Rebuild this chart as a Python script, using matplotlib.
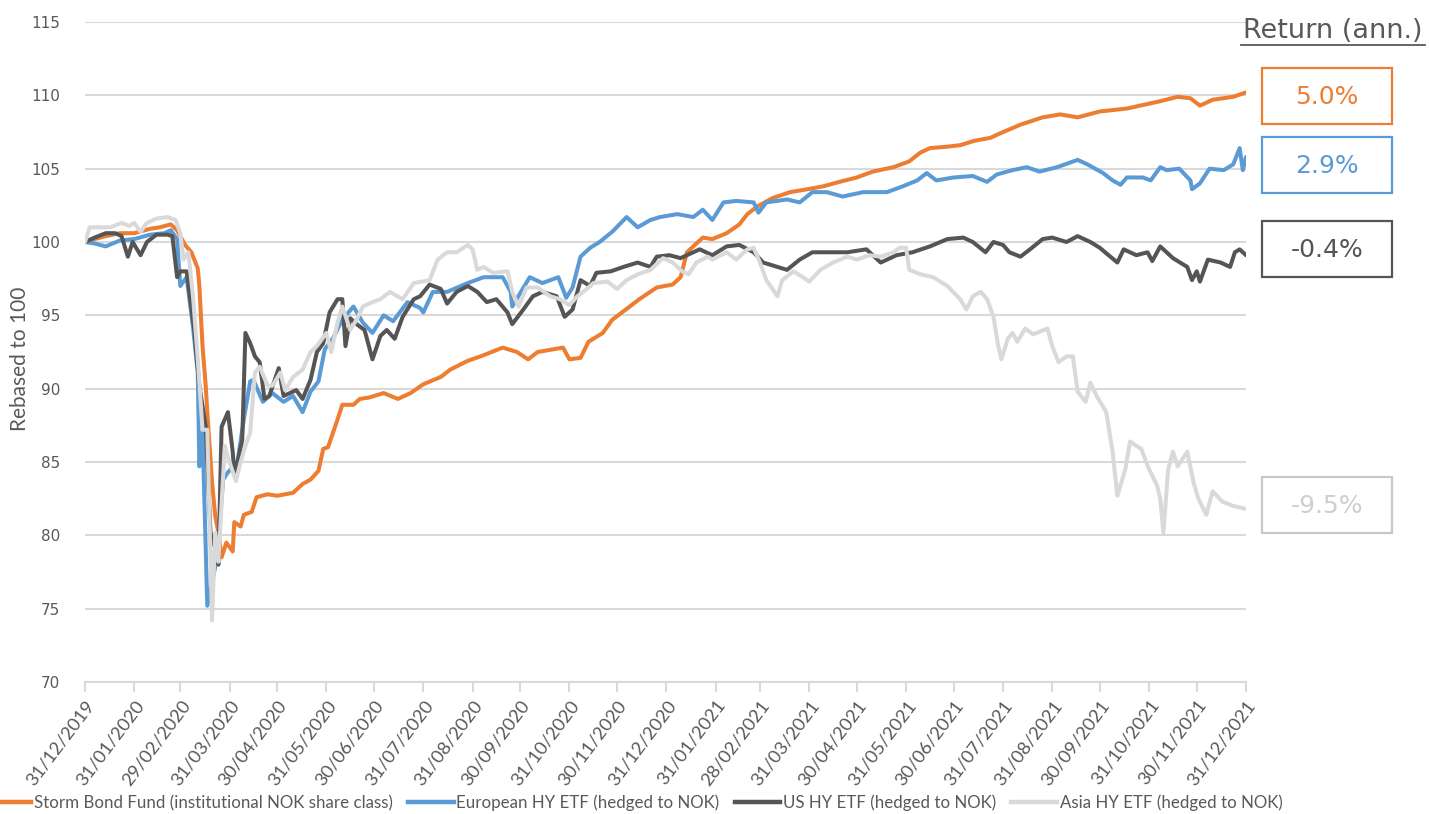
import matplotlib
matplotlib.use("Agg")
import matplotlib.pyplot as plt
from matplotlib.patches import Rectangle
from matplotlib.lines import Line2D
import pandas as pd

# ---------------- data ----------------
series_names = [
    "Storm Bond Fund (institutional NOK share class)",
    "European HY ETF (hedged to NOK)",
    "US HY ETF (hedged to NOK)",
    "Asia HY ETF (hedged to NOK)",
]
returns = ["5.0%", "2.9%", "-0.4%", "-9.5%"]

storm = [("2019-12-31",100.0),("2020-01-06",100.2),("2020-01-13",100.4),("2020-01-22",100.6),("2020-01-31",100.6),("2020-02-10",100.9),("2020-02-16",101.0),("2020-02-23",101.2),("2020-02-27",100.8),("2020-03-03",99.8),("2020-03-07",99.3),("2020-03-11",98.2),("2020-03-12",97.0),("2020-03-14",92.9),("2020-03-16",90.2),("2020-03-17",88.4),("2020-03-20",83.6),("2020-03-22",81.3),("2020-03-24",80.2),("2020-03-26",78.5),("2020-03-29",79.5),("2020-04-02",78.9),("2020-04-03",80.9),("2020-04-07",80.6),("2020-04-09",81.4),("2020-04-14",81.6),("2020-04-17",82.6),("2020-04-24",82.8),("2020-04-30",82.7),("2020-05-10",82.9),("2020-05-16",83.5),("2020-05-21",83.8),("2020-05-26",84.4),("2020-05-29",85.9),("2020-06-01",86.0),("2020-06-07",87.9),("2020-06-10",88.9),("2020-06-17",88.9),("2020-06-21",89.3),("2020-06-27",89.4),("2020-07-06",89.7),("2020-07-15",89.3),("2020-07-23",89.7),("2020-07-31",90.3),("2020-08-11",90.8),("2020-08-17",91.3),("2020-08-28",91.9),("2020-09-05",92.2),("2020-09-19",92.8),("2020-09-28",92.5),("2020-10-05",92.0),("2020-10-11",92.5),("2020-10-27",92.8),("2020-10-31",92.0),("2020-11-07",92.1),("2020-11-12",93.2),("2020-11-21",93.8),("2020-11-27",94.7),("2020-12-08",95.6),("2020-12-14",96.1),("2020-12-25",96.9),("2021-01-04",97.1),("2021-01-09",97.6),("2021-01-13",99.3),("2021-01-23",100.3),("2021-01-29",100.2),("2021-02-07",100.6),("2021-02-15",101.2),("2021-02-20",101.9),("2021-02-26",102.4),("2021-03-08",103.0),("2021-03-19",103.4),("2021-03-30",103.6),("2021-04-09",103.8),("2021-04-19",104.1),("2021-04-30",104.4),("2021-05-10",104.8),("2021-05-23",105.1),("2021-06-02",105.5),("2021-06-09",106.1),("2021-06-15",106.4),("2021-06-26",106.5),("2021-07-04",106.6),("2021-07-13",106.9),("2021-07-23",107.1),("2021-07-29",107.4),("2021-08-11",108.0),("2021-08-25",108.5),("2021-09-05",108.7),("2021-09-16",108.5),("2021-09-30",108.9),("2021-10-17",109.1),("2021-11-07",109.6),("2021-11-18",109.9),("2021-11-26",109.8),("2021-12-02",109.3),("2021-12-10",109.7),("2021-12-23",109.9),("2021-12-31",110.2)]

europe = [("2019-12-31",100.0),("2020-01-06",99.9),("2020-01-13",99.7),("2020-01-22",100.1),("2020-01-31",100.2),("2020-02-10",100.5),("2020-02-19",100.6),("2020-02-23",100.8),("2020-02-27",100.2),("2020-02-29",97.0),("2020-03-04",97.6),("2020-03-08",94.2),("2020-03-11",91.1),("2020-03-12",84.7),("2020-03-14",87.0),("2020-03-17",75.2),("2020-03-23",78.4),("2020-03-27",83.8),("2020-03-30",84.3),("2020-04-05",85.0),("2020-04-09",87.9),("2020-04-13",90.5),("2020-04-15",90.6),("2020-04-21",89.1),("2020-04-27",89.7),("2020-05-04",89.1),("2020-05-10",89.5),("2020-05-16",88.4),("2020-05-21",89.8),("2020-05-26",90.5),("2020-05-30",92.7),("2020-06-04",93.4),("2020-06-10",94.7),("2020-06-17",95.6),("2020-06-23",94.5),("2020-06-29",93.8),("2020-07-06",95.0),("2020-07-12",94.6),("2020-07-21",95.9),("2020-07-29",95.5),("2020-07-31",95.2),("2020-08-06",96.6),("2020-08-15",96.6),("2020-08-28",97.2),("2020-09-07",97.6),("2020-09-19",97.6),("2020-09-24",96.6),("2020-09-25",95.6),("2020-10-06",97.6),("2020-10-14",97.2),("2020-10-24",97.6),("2020-10-29",96.2),("2020-11-02",96.9),("2020-11-07",99.0),("2020-11-13",99.6),("2020-11-19",100.0),("2020-11-27",100.7),("2020-12-06",101.7),("2020-12-13",101.0),("2020-12-21",101.5),("2020-12-27",101.7),("2021-01-07",101.9),("2021-01-17",101.7),("2021-01-23",102.2),("2021-01-29",101.5),("2021-02-05",102.7),("2021-02-13",102.8),("2021-02-24",102.7),("2021-02-27",102.0),("2021-03-04",102.7),("2021-03-17",102.9),("2021-03-25",102.7),("2021-04-02",103.4),("2021-04-11",103.4),("2021-04-21",103.1),("2021-05-04",103.4),("2021-05-19",103.4),("2021-05-29",103.8),("2021-06-07",104.2),("2021-06-13",104.7),("2021-06-19",104.2),("2021-06-30",104.4),("2021-07-12",104.5),("2021-07-21",104.1),("2021-07-27",104.6),("2021-08-06",104.9),("2021-08-15",105.1),("2021-08-23",104.8),("2021-09-03",105.1),("2021-09-16",105.6),("2021-09-22",105.3),("2021-10-02",104.7),("2021-10-08",104.2),("2021-10-13",103.9),("2021-10-17",104.4),("2021-10-27",104.4),("2021-11-01",104.2),("2021-11-07",105.1),("2021-11-11",104.9),("2021-11-19",105.0),("2021-11-26",104.2),("2021-11-27",103.6),("2021-12-02",104.0),("2021-12-08",105.0),("2021-12-17",104.9),("2021-12-23",105.3),("2021-12-27",106.4),("2021-12-29",104.9),("2021-12-31",105.8)]

us = [("2019-12-31",100.0),("2020-01-06",100.3),("2020-01-13",100.6),("2020-01-19",100.6),("2020-01-23",100.4),("2020-01-27",99.0),("2020-01-30",100.0),("2020-02-04",99.1),("2020-02-08",100.0),("2020-02-14",100.5),("2020-02-21",100.5),("2020-02-24",100.4),("2020-02-27",97.6),("2020-02-29",98.0),("2020-03-04",98.0),("2020-03-06",96.3),("2020-03-09",93.8),("2020-03-10",92.5),("2020-03-12",90.2),("2020-03-16",87.4),("2020-03-19",80.2),("2020-03-22",79.1),("2020-03-24",78.0),("2020-03-26",87.4),("2020-03-30",88.4),("2020-04-02",85.7),("2020-04-03",84.3),("2020-04-05",85.0),("2020-04-08",86.5),("2020-04-10",93.8),("2020-04-13",93.1),("2020-04-16",92.2),("2020-04-19",91.8),("2020-04-22",89.3),("2020-04-25",89.5),("2020-05-01",91.4),("2020-05-04",89.5),("2020-05-08",89.7),("2020-05-12",89.9),("2020-05-16",89.3),("2020-05-21",90.6),("2020-05-25",92.5),("2020-05-29",93.1),("2020-06-02",95.2),("2020-06-07",96.1),("2020-06-10",96.1),("2020-06-12",92.9),("2020-06-15",94.8),("2020-06-19",94.4),("2020-06-24",94.0),("2020-06-29",92.0),("2020-07-04",93.6),("2020-07-08",94.0),("2020-07-13",93.4),("2020-07-18",94.9),("2020-07-25",96.1),("2020-07-29",96.3),("2020-08-04",97.1),("2020-08-11",96.8),("2020-08-15",95.8),("2020-08-21",96.6),("2020-08-28",97.0),("2020-09-03",96.6),("2020-09-09",95.9),("2020-09-15",96.1),("2020-09-22",95.2),("2020-09-25",94.4),("2020-10-02",95.4),("2020-10-08",96.3),("2020-10-14",96.6),("2020-10-23",96.3),("2020-10-28",94.9),("2020-11-02",95.4),("2020-11-07",97.4),("2020-11-13",97.0),("2020-11-17",97.9),("2020-11-26",98.0),("2020-12-04",98.3),("2020-12-13",98.6),("2020-12-21",98.3),("2020-12-25",99.0),("2021-01-02",99.1),("2021-01-09",98.9),("2021-01-15",99.2),("2021-01-21",99.5),("2021-01-29",99.1),("2021-02-07",99.7),("2021-02-15",99.8),("2021-02-24",99.3),("2021-03-02",98.6),("2021-03-11",98.3),("2021-03-17",98.1),("2021-03-25",98.8),("2021-04-02",99.3),("2021-04-13",99.3),("2021-04-24",99.3),("2021-05-06",99.5),("2021-05-15",98.6),("2021-05-25",99.1),("2021-06-04",99.3),("2021-06-15",99.7),("2021-06-26",100.2),("2021-07-06",100.3),("2021-07-12",100.0),("2021-07-20",99.3),("2021-07-25",100.0),("2021-07-31",99.8),("2021-08-04",99.3),("2021-08-11",99.0),("2021-08-17",99.5),("2021-08-25",100.2),("2021-08-31",100.3),("2021-09-09",100.0),("2021-09-16",100.4),("2021-09-24",100.0),("2021-09-30",99.6),("2021-10-11",98.6),("2021-10-15",99.5),("2021-10-23",99.1),("2021-10-30",99.3),("2021-11-02",98.7),("2021-11-07",99.7),("2021-11-15",98.9),("2021-11-24",98.3),("2021-11-27",97.4),("2021-11-30",98.0),("2021-12-02",97.3),("2021-12-07",98.8),("2021-12-15",98.6),("2021-12-21",98.3),("2021-12-24",99.3),("2021-12-27",99.5),("2021-12-31",99.1)]

asia = [("2019-12-31",100.0),("2020-01-03",101.0),("2020-01-09",101.0),("2020-01-16",101.0),("2020-01-23",101.3),("2020-01-28",101.1),("2020-01-31",101.3),("2020-02-04",100.7),("2020-02-08",101.3),("2020-02-14",101.6),("2020-02-21",101.7),("2020-02-26",101.5),("2020-02-29",100.6),("2020-03-02",98.8),("2020-03-05",99.3),("2020-03-08",96.3),("2020-03-11",92.0),("2020-03-14",87.2),("2020-03-17",87.2),("2020-03-20",74.2),("2020-03-22",80.2),("2020-03-24",78.2),("2020-03-28",86.1),("2020-03-31",85.0),("2020-04-04",83.7),("2020-04-07",85.0),("2020-04-10",86.1),("2020-04-13",87.0),("2020-04-16",91.1),("2020-04-19",91.5),("2020-04-24",90.2),("2020-04-27",90.2),("2020-05-02",91.1),("2020-05-05",89.9),("2020-05-10",90.8),("2020-05-16",91.3),("2020-05-21",92.5),("2020-05-25",92.9),("2020-05-31",93.8),("2020-06-03",92.5),("2020-06-07",94.5),("2020-06-10",95.6),("2020-06-15",94.0),("2020-06-19",94.7),("2020-06-23",95.6),("2020-06-29",95.9),("2020-07-04",96.1),("2020-07-10",96.6),("2020-07-18",96.1),("2020-07-25",97.2),("2020-08-04",97.4),("2020-08-09",98.8),("2020-08-15",99.3),("2020-08-21",99.3),("2020-08-28",99.8),("2020-08-31",99.5),("2020-09-03",98.1),("2020-09-07",98.3),("2020-09-13",97.9),("2020-09-22",98.0),("2020-09-25",96.6),("2020-09-29",95.6),("2020-10-04",96.9),("2020-10-11",96.9),("2020-10-19",96.3),("2020-10-25",96.1),("2020-10-31",95.7),("2020-11-05",96.3),("2020-11-11",96.8),("2020-11-15",97.2),("2020-11-24",97.3),("2020-11-30",96.8),("2020-12-06",97.4),("2020-12-13",97.8),("2020-12-21",98.1),("2020-12-29",98.9),("2021-01-04",98.6),("2021-01-10",98.0),("2021-01-14",97.8),("2021-01-19",98.6),("2021-01-26",99.0),("2021-01-29",98.8),("2021-02-07",99.3),("2021-02-13",98.8),("2021-02-20",99.5),("2021-02-24",99.6),("2021-02-28",98.6),("2021-03-04",97.4),("2021-03-11",96.3),("2021-03-14",97.4),("2021-03-21",98.0),("2021-03-27",97.6),("2021-03-31",97.3),("2021-04-07",98.1),("2021-04-15",98.6),("2021-04-24",99.0),("2021-04-30",98.8),("2021-05-08",99.1),("2021-05-15",99.0),("2021-05-23",99.3),("2021-05-27",99.6),("2021-05-31",99.6),("2021-06-02",98.1),("2021-06-09",97.8),("2021-06-17",97.6),("2021-06-26",97.0),("2021-07-04",96.1),("2021-07-08",95.4),("2021-07-12",96.3),("2021-07-17",96.6),("2021-07-21",96.1),("2021-07-25",94.9),("2021-07-28",92.9),("2021-07-30",92.0),("2021-08-03",93.4),("2021-08-06",93.8),("2021-08-09",93.2),("2021-08-14",94.1),("2021-08-19",93.7),("2021-08-28",94.1),("2021-08-31",92.9),("2021-09-04",91.8),("2021-09-09",92.2),("2021-09-13",92.2),("2021-09-16",89.8),("2021-09-21",89.1),("2021-09-24",90.4),("2021-09-28",89.5),("2021-10-04",88.4),("2021-10-08",85.7),("2021-10-11",82.7),("2021-10-16",84.5),("2021-10-19",86.4),("2021-10-23",86.1),("2021-10-26",85.9),("2021-10-31",84.5),("2021-11-05",83.4),("2021-11-07",82.5),("2021-11-09",80.2),("2021-11-12",84.5),("2021-11-15",85.7),("2021-11-18",84.7),("2021-11-24",85.7),("2021-11-28",83.6),("2021-12-01",82.5),("2021-12-06",81.4),("2021-12-10",83.0),("2021-12-16",82.3),("2021-12-23",82.0),("2021-12-31",81.8)]

y_ticks = [70, 75, 80, 85, 90, 95, 100, 105, 110, 115]
x_start, x_end = "2019-12-31", "2021-12-31"

# ---------------- styling ----------------
colors = ["#ED7D31", "#5B9BD5", "#555555", "#D9D9D9"]
box_edge = ["#ED7D31", "#5B9BD5", "#555555", "#C8C8C8"]
box_text = ["#ED7D31", "#5B9BD5", "#555555", "#CFCFCF"]
GRAY = "#595959"
NARROW = ["Lato", "DejaVu Sans"]

W, H = 1429, 814
fig = plt.figure(figsize=(W / 100, H / 100), dpi=100)
ax = fig.add_axes([85 / W, 1 - 682 / H, 1161 / W, 660 / H])

for data, c, name in zip([storm, europe, us, asia], colors, series_names):
    df = pd.DataFrame(data, columns=["date", "value"])
    df["date"] = pd.to_datetime(df["date"])
    ax.plot(df["date"], df["value"], color=c, lw=2.9, label=name,
            solid_joinstyle="round", solid_capstyle="round", zorder=3)

ax.set_xlim(pd.Timestamp(x_start), pd.Timestamp(x_end))
ax.set_ylim(min(y_ticks), max(y_ticks))
ax.set_yticks(y_ticks)
ax.yaxis.grid(True, color="#D9D9D9", lw=1.5)
ax.set_axisbelow(True)
for s in ["left", "right", "top"]:
    ax.spines[s].set_visible(False)
ax.spines["bottom"].set_color("#D9D9D9")
ax.spines["bottom"].set_linewidth(1.5)

month_ends = pd.date_range(x_start, x_end, freq="ME")
ax.set_xticks(month_ends)
ax.set_xticklabels([d.strftime("%d/%m/%Y") for d in month_ends],
                   rotation=53, ha="right", rotation_mode="anchor",
                   fontsize=13.2, color=GRAY, family=NARROW)
ax.tick_params(axis="x", length=7, width=1.5, color="#D9D9D9", pad=4)
ax.tick_params(axis="y", length=0, pad=18, labelsize=11, labelcolor=GRAY)

ax.set_ylabel("Rebased to 100", fontsize=15, color=GRAY, family=NARROW)
ax.yaxis.set_label_coords(-55 / 1161, 0.49)

# Legend
handles = [Line2D([0], [0], color=c, lw=3.2) for c in colors]
fig.legend(handles, series_names, loc="center", bbox_to_anchor=(634 / W, 1 - 803 / H),
           ncol=4, frameon=False, prop={"family": NARROW, "size": 12.2},
           handlelength=2.7, handletextpad=0.15, columnspacing=0.9, labelcolor=GRAY)

# Return boxes
fig.text(1333 / W, 1 - 31 / H, "Return (ann.)", ha="center", va="center",
         fontsize=19.5, color=GRAY)
fig.add_artist(Line2D([1241 / W, 1425 / W], [1 - 45 / H, 1 - 45 / H],
                      color=GRAY, lw=1.3, transform=fig.transFigure))
box_tops = [68, 137, 221, 477]
for top, r, ec, tc in zip(box_tops, returns, box_edge, box_text):
    fig.add_artist(Rectangle((1262 / W, 1 - (top + 56) / H), 130 / W, 56 / H,
                             fill=False, ec=ec, lw=1.6, transform=fig.transFigure))
    fig.text(1327 / W, 1 - (top + 29) / H, r, ha="center", va="center",
             fontsize=18, color=tc)

fig.savefig("out.png", dpi=100)
